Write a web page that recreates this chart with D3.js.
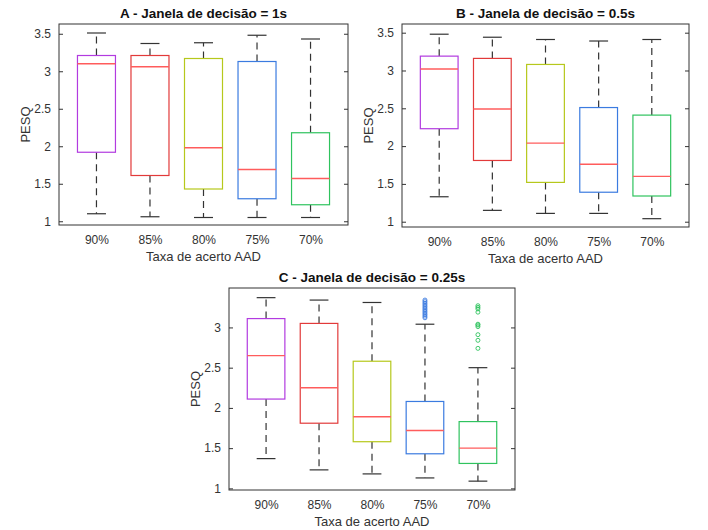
<!DOCTYPE html>
<html>
<head>
<meta charset="utf-8">
<script src="https://cdn.jsdelivr.net/npm/d3@7"></script>
<style>
    body { margin: 0; background: #fff; }
    svg { font-family: "Liberation Sans", Arial, sans-serif; }
</style>
</head>
<body>
<div id="chart"></div>
<script>
// categories and colours
const categories = ["90%", "85%", "80%", "75%", "70%"];
const boxColors = ["#b23be0", "#e23a3a", "#b6c81c", "#3b7be0", "#2fc35e"];

// panel A - 1s
const lowA  = [1.10, 1.06, 1.05, 1.05, 1.05];
const q1A   = [1.92, 1.61, 1.43, 1.30, 1.22];
const medA  = [3.10, 3.06, 1.98, 1.69, 1.57];
const q3A   = [3.21, 3.21, 3.17, 3.13, 2.18];
const highA = [3.51, 3.37, 3.38, 3.48, 3.43];

// panel B - 0.5s
const lowB  = [1.33, 1.15, 1.11, 1.11, 1.04];
const q1B   = [2.23, 1.81, 1.52, 1.39, 1.34];
const medB  = [3.02, 2.49, 2.04, 1.76, 1.60];
const q3B   = [3.19, 3.16, 3.08, 2.51, 2.41];
const highB = [3.48, 3.44, 3.41, 3.39, 3.41];

// panel C - 0.25s
const lowC  = [1.37, 1.23, 1.18, 1.13, 1.09];
const q1C   = [2.11, 1.81, 1.58, 1.43, 1.31];
const medC  = [2.65, 2.25, 1.89, 1.72, 1.50];
const q3C   = [3.11, 3.05, 2.58, 2.08, 1.83];
const highC = [3.37, 3.34, 3.31, 3.04, 2.50];
const outliersC = [
    [], [], [],
    [3.34, 3.32, 3.30, 3.28, 3.26, 3.24, 3.22, 3.20, 3.18, 3.16, 3.14, 3.12],
    [3.27, 3.25, 3.23, 3.19, 3.04, 3.03, 3.01, 2.91, 2.84, 2.74]
];

const ticksAB = [1, 1.5, 2, 2.5, 3, 3.5];
const ticksC = [1, 1.5, 2, 2.5, 3];

let width = 708;
let height = 530;

let svg = d3.select("#chart")
    .append("svg")
    .attr("width", width)
    .attr("height", height);

drawPanel({
    title: "A - Janela de decisão = 1s",
    left: 59, right: 348, top: 24, bottom: 225,
    yDomain: [0.95, 3.63], ticks: ticksAB,
    low: lowA, q1: q1A, med: medA, q3: q3A, high: highA, outliers: null
});

drawPanel({
    title: "B - Janela de decisão = 0.5s",
    left: 402, right: 689, top: 24, bottom: 227,
    yDomain: [0.93, 3.615], ticks: ticksAB,
    low: lowB, q1: q1B, med: medB, q3: q3B, high: highB, outliers: null
});

drawPanel({
    title: "C - Janela de decisão = 0.25s",
    left: 229, right: 515, top: 288, bottom: 490,
    yDomain: [0.98, 3.49], ticks: ticksC,
    low: lowC, q1: q1C, med: medC, q3: q3C, high: highC, outliers: outliersC
});

function drawPanel(p) {
    let g = svg.append("g");

    let x = d3.scalePoint()
        .domain(categories)
        .range([p.left, p.right])
        .padding(0.7);

    let y = d3.scaleLinear()
        .domain(p.yDomain)
        .range([p.bottom, p.top]);

    let step = x.step();
    let boxW = step * 0.71;
    let capW = boxW / 2;

    // frame
    g.append("rect")
        .attr("x", p.left)
        .attr("y", p.top)
        .attr("width", p.right - p.left)
        .attr("height", p.bottom - p.top)
        .attr("fill", "none")
        .attr("stroke", "#333")
        .attr("stroke-width", 1);

    // y axis (left) and mirrored ticks (right)
    let yAxis = d3.axisLeft(y)
        .tickValues(p.ticks)
        .tickSize(-4)
        .tickPadding(8)
        .tickFormat(d3.format("~g"));

    g.append("g")
        .attr("transform", `translate(${p.left},0)`)
        .call(yAxis)
        .call(a => a.select(".domain").remove())
        .call(a => a.selectAll("line").attr("stroke", "#333"))
        .call(a => a.selectAll("text")
            .attr("font-size", "12px")
            .attr("fill", "#333")
            .attr("font-family", "Liberation Sans, Arial, sans-serif"));

    g.append("g")
        .attr("transform", `translate(${p.right},0)`)
        .call(d3.axisRight(y).tickValues(p.ticks).tickSize(-4).tickFormat(""))
        .call(a => a.select(".domain").remove())
        .call(a => a.selectAll("line").attr("stroke", "#333"));

    // x tick labels
    g.append("g")
        .attr("transform", `translate(0,${p.bottom})`)
        .call(d3.axisBottom(x).tickSize(0).tickPadding(10))
        .call(a => a.select(".domain").remove())
        .call(a => a.selectAll("text")
            .attr("font-size", "12px")
            .attr("fill", "#333")
            .attr("font-family", "Liberation Sans, Arial, sans-serif"));

    // title
    g.append("text")
        .attr("x", (p.left + p.right) / 2)
        .attr("y", p.top - 6)
        .attr("text-anchor", "middle")
        .attr("font-size", "13.5px")
        .attr("font-weight", "bold")
        .attr("fill", "#111")
        .text(p.title);

    // axis labels
    g.append("text")
        .attr("x", (p.left + p.right) / 2)
        .attr("y", p.bottom + 36)
        .attr("text-anchor", "middle")
        .attr("font-size", "13px")
        .attr("fill", "#333")
        .text("Taxa de acerto AAD");

    let ly = (p.top + p.bottom) / 2;
    let lx = p.left - 29;
    g.append("text")
        .attr("x", lx)
        .attr("y", ly)
        .attr("text-anchor", "middle")
        .attr("font-size", "13px")
        .attr("fill", "#333")
        .attr("transform", `rotate(-90, ${lx}, ${ly})`)
        .text("PESQ");

    categories.forEach((c, i) => {
        let cx = x(c);

        // whiskers
        g.append("line")
            .attr("x1", cx).attr("x2", cx)
            .attr("y1", y(p.q3[i])).attr("y2", y(p.high[i]))
            .attr("stroke", "#333")
            .attr("stroke-width", 1.2)
            .attr("stroke-dasharray", "7,5");
        g.append("line")
            .attr("x1", cx).attr("x2", cx)
            .attr("y1", y(p.q1[i])).attr("y2", y(p.low[i]))
            .attr("stroke", "#333")
            .attr("stroke-width", 1.2)
            .attr("stroke-dasharray", "7,5");

        // caps
        [p.high[i], p.low[i]].forEach(v => {
            g.append("line")
                .attr("x1", cx - capW / 2).attr("x2", cx + capW / 2)
                .attr("y1", y(v)).attr("y2", y(v))
                .attr("stroke", "#333")
                .attr("stroke-width", 1.2);
        });

        // box
        g.append("rect")
            .attr("x", cx - boxW / 2)
            .attr("y", y(p.q3[i]))
            .attr("width", boxW)
            .attr("height", y(p.q1[i]) - y(p.q3[i]))
            .attr("fill", "#fff")
            .attr("stroke", boxColors[i])
            .attr("stroke-width", 1.2);

        // median
        g.append("line")
            .attr("x1", cx - boxW / 2).attr("x2", cx + boxW / 2)
            .attr("y1", y(p.med[i])).attr("y2", y(p.med[i]))
            .attr("stroke", "#ff5c5c")
            .attr("stroke-width", 1.4);

        // outliers
        if (p.outliers) {
            g.selectAll(null)
                .data(p.outliers[i])
                .join("circle")
                .attr("cx", cx)
                .attr("cy", d => y(d))
                .attr("r", 2)
                .attr("fill", "none")
                .attr("stroke", boxColors[i])
                .attr("stroke-width", 0.9);
        }
    });
}
</script>
</body>
</html>
